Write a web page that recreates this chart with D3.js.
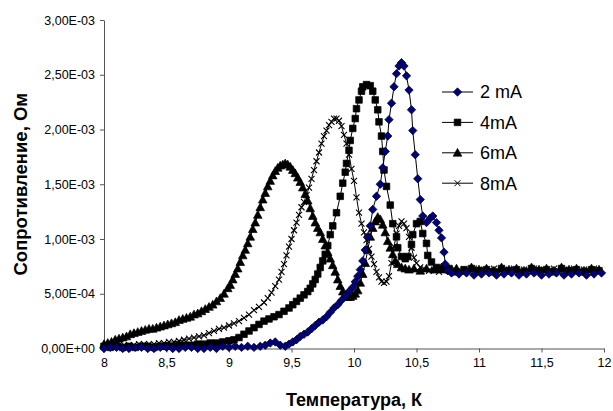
<!DOCTYPE html>
<html>
<head>
<meta charset="utf-8">
<script src="https://cdn.jsdelivr.net/npm/d3@7"></script>
<style>
  body { margin: 0; background: #fff; }
  svg { font-family: Arial, "Liberation Sans", sans-serif; }
  .axis text { font-size: 12.5px; fill: #000; }
  .axis path, .axis line { stroke: #555; }
</style>
</head>
<body>
<script>

  //Ticks and labels
  var xTicks = [8, 8.5, 9, 9.5, 10, 10.5, 11, 11.5, 12];
  var xTickLabels = ["8", "8,5", "9", "9,5", "10", "10,5", "11", "11,5", "12"];
  var yTicks = [0, 0.5, 1, 1.5, 2, 2.5, 3];   // in units of 1E-03 Ohm
  var yTickLabels = ["0,00E+00", "5,00E-04", "1,00E-03", "1,50E-03", "2,00E-03", "2,50E-03", "3,00E-03"];
  var seriesNames = ["2 mA", "4mA", "6mA", "8mA"];

  // [temperature K, resistance 1E-03 Ohm]
  var data2mA = [[8.00,0.00],[8.05,0.01],[8.10,0.01],[8.15,0.00],[8.20,0.00],[8.25,0.01],[8.30,0.01],[8.35,0.00],[8.40,0.00],[8.45,0.01],
    [8.50,0.01],[8.55,0.00],[8.60,0.00],[8.65,0.01],[8.70,0.01],[8.75,0.00],[8.80,0.00],[8.85,0.01],[8.90,0.00],[8.95,0.02],
    [9.00,0.01],[9.05,0.02],[9.10,0.01],[9.15,0.02],[9.20,0.01],[9.25,0.02],[9.29,0.03],[9.33,0.05],[9.37,0.06],[9.41,0.03],
    [9.45,0.02],[9.48,0.04],[9.51,0.06],[9.54,0.08],[9.57,0.11],[9.60,0.13],[9.63,0.15],[9.66,0.18],[9.69,0.21],[9.72,0.24],
    [9.75,0.26],[9.78,0.29],[9.81,0.33],[9.84,0.37],[9.87,0.40],[9.90,0.44],[9.93,0.48],[9.96,0.52],[9.99,0.56],[10.01,0.61],
    [10.03,0.66],[10.05,0.72],[10.07,0.80],[10.09,0.90],[10.11,1.02],[10.13,1.12],[10.15,1.27],[10.18,1.39],[10.21,1.50],[10.23,1.65],
    [10.25,1.80],[10.27,1.94],[10.28,2.09],[10.30,2.24],[10.32,2.39],[10.34,2.51],[10.36,2.58],[10.38,2.61],[10.40,2.58],[10.42,2.49],
    [10.44,2.36],[10.46,2.18],[10.47,1.99],[10.49,1.77],[10.51,1.55],[10.53,1.36],[10.55,1.21],[10.58,1.15],[10.61,1.19],[10.63,1.21],
    [10.66,1.15],[10.68,1.08],[10.70,1.01],[10.72,0.88],[10.73,0.77],[10.75,0.71],[10.78,0.69],[10.84,0.68],[10.90,0.69],[10.96,0.67],
    [11.02,0.68],[11.08,0.69],[11.14,0.67],[11.20,0.68],[11.26,0.69],[11.32,0.67],[11.38,0.68],[11.44,0.69],[11.50,0.67],[11.56,0.68],
    [11.62,0.69],[11.68,0.67],[11.74,0.68],[11.80,0.69],[11.86,0.67],[11.92,0.68],[11.98,0.69]];

  var data4mA = [[8.00,0.02],[8.05,0.01],[8.10,0.02],[8.15,0.01],[8.20,0.02],[8.25,0.01],[8.30,0.02],[8.35,0.02],[8.40,0.01],[8.45,0.02],
    [8.50,0.02],[8.55,0.02],[8.60,0.03],[8.65,0.03],[8.70,0.03],[8.75,0.04],[8.80,0.04],[8.85,0.05],[8.90,0.05],[8.95,0.06],
    [9.00,0.07],[9.04,0.08],[9.08,0.10],[9.12,0.13],[9.16,0.16],[9.20,0.19],[9.24,0.22],[9.28,0.25],[9.32,0.27],[9.36,0.29],
    [9.40,0.31],[9.44,0.34],[9.48,0.37],[9.51,0.40],[9.54,0.43],[9.57,0.46],[9.60,0.49],[9.63,0.52],[9.65,0.55],[9.67,0.59],
    [9.69,0.63],[9.71,0.68],[9.73,0.74],[9.75,0.80],[9.77,0.86],[9.79,0.94],[9.81,1.04],[9.83,1.12],[9.86,1.24],[9.89,1.39],
    [9.91,1.51],[9.93,1.61],[9.94,1.69],[9.96,1.81],[9.97,1.90],[9.99,2.01],[10.01,2.10],[10.02,2.19],[10.04,2.27],[10.06,2.35],
    [10.07,2.39],[10.10,2.41],[10.13,2.40],[10.15,2.35],[10.17,2.27],[10.19,2.18],[10.20,2.07],[10.22,1.94],[10.23,1.80],[10.24,1.63],
    [10.26,1.48],[10.29,1.31],[10.31,1.14],[10.34,1.02],[10.35,0.92],[10.38,0.84],[10.41,0.82],[10.43,0.84],[10.46,0.95],[10.47,1.04],
    [10.50,1.14],[10.53,1.16],[10.55,1.05],[10.58,0.96],[10.59,0.85],[10.62,0.79],[10.66,0.74],[10.70,0.72],[10.76,0.73],[10.82,0.70],
    [10.88,0.72],[10.94,0.73],[11.00,0.71],[11.06,0.72],[11.12,0.70],[11.18,0.73],[11.24,0.71],[11.30,0.72],[11.36,0.70],[11.42,0.73],
    [11.48,0.71],[11.54,0.72],[11.60,0.70],[11.66,0.73],[11.72,0.71],[11.78,0.72],[11.84,0.70],[11.90,0.72],[11.96,0.71]];

  var data6mA = [[8.00,0.04],[8.03,0.05],[8.06,0.06],[8.09,0.08],[8.12,0.09],[8.15,0.10],[8.18,0.11],[8.21,0.13],[8.24,0.14],[8.27,0.15],
    [8.30,0.16],[8.33,0.17],[8.36,0.18],[8.39,0.18],[8.42,0.19],[8.45,0.20],[8.48,0.21],[8.51,0.22],[8.54,0.23],[8.57,0.24],
    [8.60,0.26],[8.63,0.27],[8.66,0.28],[8.69,0.29],[8.72,0.31],[8.75,0.32],[8.78,0.34],[8.81,0.36],[8.84,0.38],[8.87,0.40],
    [8.90,0.43],[8.93,0.46],[8.96,0.50],[8.99,0.55],[9.01,0.58],[9.03,0.63],[9.05,0.68],[9.07,0.73],[9.09,0.79],[9.11,0.85],
    [9.13,0.90],[9.15,0.96],[9.17,1.02],[9.19,1.09],[9.21,1.15],[9.23,1.22],[9.25,1.29],[9.27,1.36],[9.29,1.42],[9.31,1.48],
    [9.33,1.53],[9.35,1.58],[9.37,1.62],[9.39,1.65],[9.41,1.67],[9.43,1.68],[9.45,1.69],[9.47,1.68],[9.49,1.66],[9.51,1.63],
    [9.53,1.60],[9.55,1.56],[9.57,1.52],[9.59,1.47],[9.61,1.41],[9.63,1.35],[9.65,1.28],[9.67,1.21],[9.69,1.15],[9.71,1.10],
    [9.73,1.06],[9.75,1.00],[9.77,0.94],[9.79,0.88],[9.81,0.82],[9.83,0.76],[9.85,0.70],[9.87,0.63],[9.89,0.57],[9.91,0.52],
    [9.93,0.49],[9.95,0.47],[9.97,0.47],[9.99,0.48],[10.01,0.50],[10.03,0.53],[10.05,0.60],[10.07,0.68],[10.09,0.78],[10.11,0.90],
    [10.13,1.02],[10.15,1.10],[10.17,1.16],[10.19,1.20],[10.21,1.18],[10.23,1.13],[10.25,1.06],[10.27,0.98],[10.29,0.92],[10.31,0.86],
    [10.33,0.80],[10.35,0.77],[10.38,0.74],[10.41,0.73],[10.44,0.72],[10.48,0.73],[10.53,0.71],[10.58,0.73],[10.64,0.72],[10.70,0.74],
    [10.76,0.72],[10.82,0.73],[10.88,0.71],[10.94,0.74],[11.00,0.72],[11.06,0.73],[11.12,0.71],[11.18,0.74],[11.24,0.72],[11.30,0.73],
    [11.36,0.71],[11.42,0.74],[11.48,0.72],[11.54,0.73],[11.60,0.71],[11.66,0.74],[11.72,0.72],[11.78,0.73],[11.84,0.71],[11.90,0.73],
    [11.96,0.72]];

  var data8mA = [[8.00,0.02],[8.04,0.02],[8.08,0.02],[8.12,0.03],[8.16,0.03],[8.20,0.03],[8.24,0.03],[8.28,0.04],[8.32,0.04],[8.36,0.04],
    [8.40,0.04],[8.44,0.05],[8.48,0.05],[8.52,0.06],[8.56,0.06],[8.60,0.07],[8.64,0.08],[8.68,0.09],[8.72,0.10],[8.76,0.11],
    [8.80,0.12],[8.84,0.14],[8.88,0.16],[8.92,0.18],[8.96,0.19],[9.00,0.21],[9.04,0.23],[9.08,0.25],[9.12,0.28],[9.16,0.31],
    [9.20,0.35],[9.24,0.38],[9.28,0.42],[9.31,0.46],[9.34,0.51],[9.37,0.57],[9.40,0.63],[9.42,0.70],[9.44,0.77],[9.46,0.85],
    [9.48,0.93],[9.50,1.00],[9.52,1.08],[9.54,1.15],[9.56,1.22],[9.58,1.29],[9.60,1.34],[9.62,1.40],[9.64,1.47],[9.66,1.55],
    [9.68,1.63],[9.70,1.71],[9.72,1.79],[9.74,1.87],[9.76,1.94],[9.78,1.99],[9.80,2.04],[9.82,2.07],[9.84,2.10],[9.86,2.10],
    [9.88,2.08],[9.90,2.03],[9.92,1.95],[9.94,1.87],[9.96,1.77],[9.98,1.64],[10.00,1.53],[10.02,1.38],[10.04,1.24],[10.06,1.14],
    [10.08,1.06],[10.10,0.99],[10.12,0.91],[10.14,0.84],[10.16,0.77],[10.18,0.70],[10.20,0.65],[10.22,0.61],[10.24,0.60],[10.26,0.61],
    [10.28,0.66],[10.30,0.78],[10.32,0.93],[10.34,1.05],[10.36,1.12],[10.38,1.16],[10.40,1.14],[10.42,1.10],[10.44,1.02],[10.46,0.92],
    [10.48,0.83],[10.50,0.78],[10.53,0.74],[10.56,0.73],[10.60,0.71],[10.64,0.72],[10.68,0.70],[10.72,0.72],[10.76,0.71],[10.80,0.73],
    [10.84,0.70],[10.88,0.72],[10.92,0.71],[10.96,0.73],[11.00,0.70],[11.04,0.72],[11.08,0.71],[11.12,0.73],[11.16,0.70],[11.20,0.72],
    [11.24,0.71],[11.28,0.73],[11.32,0.70],[11.36,0.72],[11.40,0.71],[11.44,0.73],[11.48,0.70],[11.52,0.72],[11.56,0.71],[11.60,0.73],
    [11.64,0.70],[11.68,0.72],[11.72,0.71],[11.76,0.73],[11.80,0.70],[11.84,0.72],[11.88,0.71],[11.92,0.73],[11.96,0.70]];

  var width = 613, height = 411;
  var plot = { left: 104, right: 604, top: 20, bottom: 348.5 };

  var x = d3.scaleLinear().domain([8, 12]).range([plot.left, plot.right]);
  var y = d3.scaleLinear().domain([0, 3]).range([plot.bottom, plot.top]);

  // marker shapes, drawn as small paths around 0,0
  var shapes = {
    diamond: "M0,-4.2L4.2,0L0,4.2L-4.2,0Z",
    square: "M-3.3,-3.3H3.3V3.3H-3.3Z",
    triangle: "M0,-4.4L4.3,3.4H-4.3Z",
    cross: "M-3,-3L3,3M-3,3L3,-3"
  };

  var series = [
    { name: seriesNames[3], values: data8mA, shape: "cross", fill: "none" },
    { name: seriesNames[2], values: data6mA, shape: "triangle", fill: "#000" },
    { name: seriesNames[1], values: data4mA, shape: "square", fill: "#000" },
    { name: seriesNames[0], values: data2mA, shape: "diamond", fill: "#000080" }
  ];

  var svg = d3.select("body")
    .append("svg")
    .attr("width", width)
    .attr("height", height);

  //Axes
  svg.append("g")
    .attr("class", "axis")
    .attr("transform", "translate(0," + plot.bottom + ")")
    .call(d3.axisBottom(x).tickValues(xTicks).tickSize(4).tickSizeOuter(0).tickPadding(6)
      .tickFormat(function(d, i) { return xTickLabels[i]; }));

  svg.append("g")
    .attr("class", "axis")
    .attr("transform", "translate(" + plot.left + ",0)")
    .call(d3.axisLeft(y).tickValues(yTicks).tickSize(4).tickSizeOuter(0).tickPadding(5)
      .tickFormat(function(d, i) { return yTickLabels[i]; }));

  //Axis titles
  svg.append("text")
    .attr("x", (plot.left + plot.right) / 2)
    .attr("y", 406)
    .attr("text-anchor", "middle")
    .style("font-size", "18px")
    .style("font-weight", "bold")
    .text("Температура, К");

  svg.append("text")
    .attr("transform", "translate(27," + (plot.top + plot.bottom) / 2 + ") rotate(-90)")
    .attr("text-anchor", "middle")
    .style("font-size", "18.5px")
    .style("font-weight", "bold")
    .text("Сопротивление, Ом");

  var line = d3.line()
    .x(function(d) { return x(d[0]); })
    .y(function(d) { return y(d[1]); });

  //Draw the series, last drawn on top
  var groups = svg.selectAll(".serie")
    .data(series)
    .enter().append("g")
    .attr("class", "serie");

  groups.append("path")
    .attr("d", function(d) { return line(d.values); })
    .attr("fill", "none")
    .attr("stroke", "#000")
    .attr("stroke-width", 1);

  groups.each(function(s) {
    d3.select(this).selectAll(".mark")
      .data(s.values)
      .enter().append("path")
      .attr("class", "mark")
      .attr("transform", function(d) { return "translate(" + x(d[0]) + "," + y(d[1]) + ")"; })
      .attr("d", shapes[s.shape])
      .attr("fill", s.fill)
      .attr("stroke", "#000")
      .attr("stroke-width", s.shape == "cross" ? 1.1 : 0.7);
  });

  //Legend
  var legendSeries = series.slice().reverse();
  var legend = svg.selectAll(".legend")
    .data(legendSeries)
    .enter().append("g")
    .attr("class", "legend")
    .attr("transform", function(d, i) { return "translate(442," + (92 + i * 30.4) + ")"; });

  legend.append("line")
    .attr("x1", 0).attr("x2", 31)
    .attr("stroke", "#000")
    .attr("stroke-width", 1);

  legend.append("path")
    .attr("transform", "translate(15.5,0)")
    .attr("d", function(d) { return shapes[d.shape]; })
    .attr("fill", function(d) { return d.fill; })
    .attr("stroke", "#000")
    .attr("stroke-width", function(d) { return d.shape == "cross" ? 1 : 0.7; });

  legend.append("text")
    .attr("x", 38)
    .attr("dy", "0.35em")
    .style("font-size", "18px")
    .text(function(d) { return d.name; });

</script>
</body>
</html>
